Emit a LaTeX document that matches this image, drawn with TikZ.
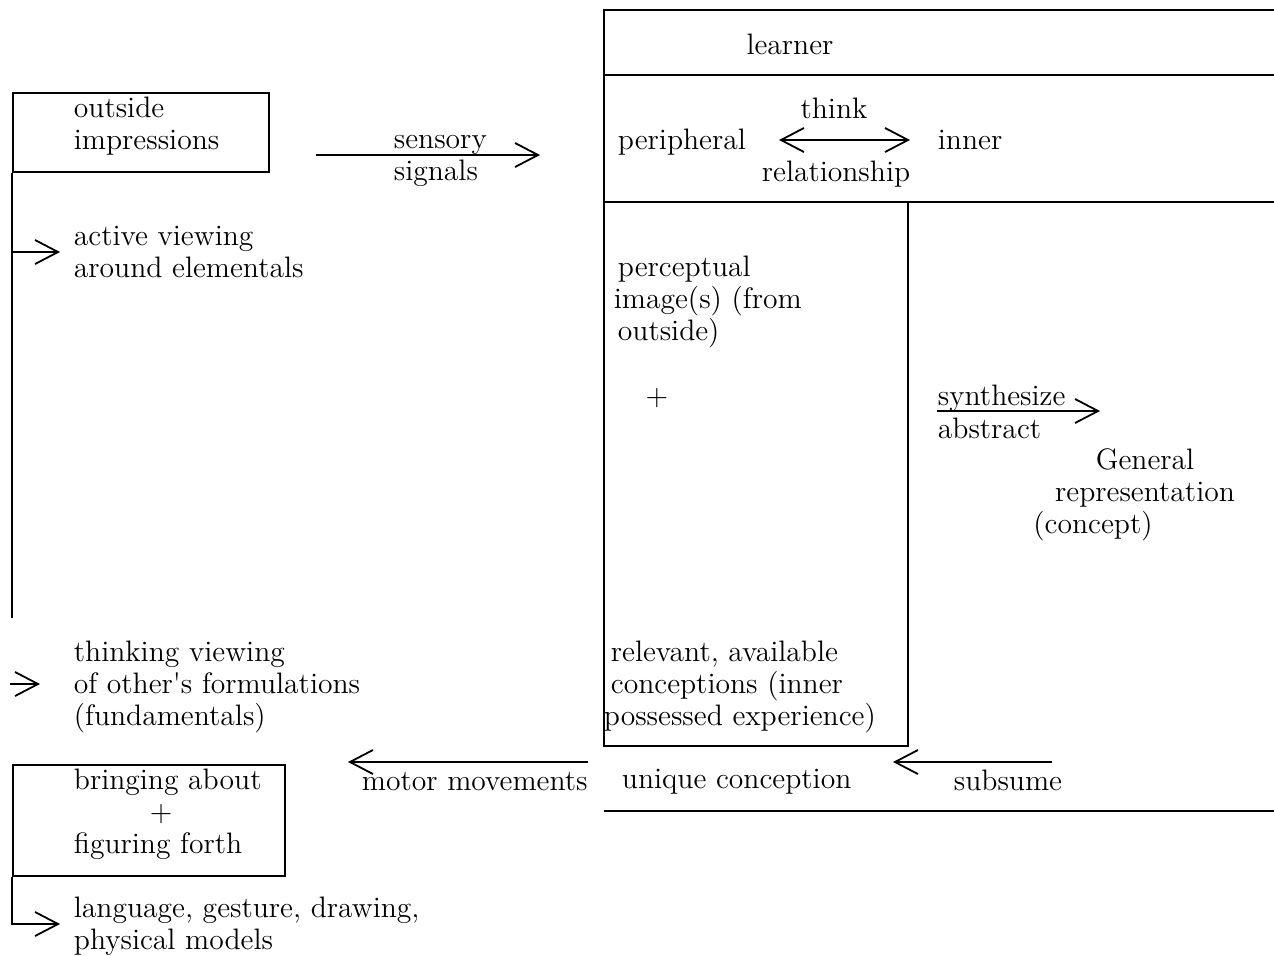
\documentclass[tikz,border=0pt]{standalone}
\usepackage{fontspec}
\usetikzlibrary{arrows.meta}
\tikzset{
  txt/.style={anchor=west,align=left,inner sep=0pt},
  frame/.style={draw,anchor=north west,inner sep=0pt},
}
\begin{document}
\begin{tikzpicture}[x=0.5pt,y=-0.5pt,line width=0.9pt,
  every node/.style={font=\fontsize{14.8pt}{16pt}\selectfont},
  >={Straight Barb[length=11.5pt,width=12pt]}]
\useasboundingbox (0,0) rectangle (1274,955);

% left column
\node[frame,minimum width=128pt,minimum height=39.5pt] (outbox) at (12,92) {};
\node[txt] (outside) at (73,126) {outside\\impressions};
\coordinate (leftend) at (12,618);
\draw (outbox.south west) -- (leftend);
\coordinate (tapa) at (12,252);
\node[txt] (active) at (73,252) {active viewing\\around elementals};
\draw[->] (tapa) -- ([xshift=-6.5pt]active.west);

\coordinate (tapb) at (10,684);
\node[txt] (thinking) at (73,687) {thinking viewing\\of other\textquotesingle s formulations\\(fundamentals)};
\draw[->] (tapb) -- ([xshift=-16.5pt]thinking.west |- tapb);

\node[frame,minimum width=136pt,minimum height=55.5pt] (bringbox) at (12,764) {};
\node[txt] (bring) at (73,814) {bringing about\\\hspace*{38pt}+\\figuring forth};
\coordinate (bend) at (12,924);
\node[txt] (language) at (73,926) {language, gesture, drawing,\\physical models};
\draw[->] (bringbox.south west) -- (bend) -- ([xshift=-6.5pt]language.west |- bend);

% sensory signals
\coordinate (sensa) at (316,155);
\coordinate (sensb) at (540,155);
\node[txt] (sensory) at (393,161) {sensory\\signals};
\draw[->] (sensa) -- (sensb);

% learner frame
\draw (1275,10) -- (604,10) -- (604,746) -- (908,746) -- (908,202);
\draw (604,75) -- (1275,75);
\draw (604,202) -- (1275,202);
\draw (604,811) -- (1275,811);
\node[inner sep=0pt] (learner) at (790,44) {learner};

\node[txt] (peripheral) at (617,142) {peripheral};
\node[txt] (inner) at (937,140) {inner};
\node[inner sep=0pt] (think) at (834,108) {think};
\node[inner sep=0pt] (relation) at (836,174) {relationship};
\coordinate (perend) at (779,140);
\coordinate (innend) at (910,140);
\draw[<->] (perend) -- (innend);

\node[txt] (perceptual) at (613,302) {\hspace*{2pt}perceptual\\image(s) (from\\\hspace*{2pt}outside)};
\node[inner sep=0pt] (plus) at (657,398) {+};

\node[txt] (synth) at (937,398) {synthesize};
\node[txt] (abstract) at (937,428) {abstract};
\coordinate (synthstart) at (937,411);
\coordinate (synthend) at (1100,411);
\draw[->] (synthstart) -- (synthend);

\node[align=center,inner sep=0pt] (general) at (1145,495) {General\\representation\\(concept)\hspace*{52pt}};

\node[txt] (relevant) at (603,687) {\hspace*{3.5pt}relevant, available\\\hspace*{3.5pt}conceptions (inner\\possessed experience)};

\node[txt] (unique) at (621,782) {unique conception};
\node[txt] (subsume) at (953,780) {subsume};
\coordinate (suba) at (1052,762);
\coordinate (subb) at (893,762);
\draw[->] (suba) -- (subb);

\node[txt] (motor) at (361,782) {motor movements};
\coordinate (mota) at (588,762);
\coordinate (motb) at (348,762);
\draw[->] (mota) -- (motb);
\end{tikzpicture}
\end{document}
